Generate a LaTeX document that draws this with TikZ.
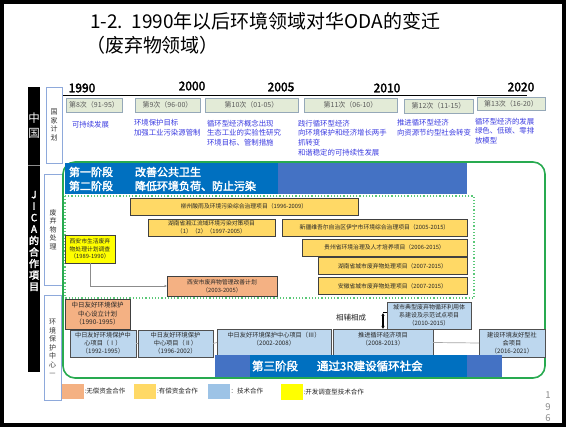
\documentclass[tikz,border=0pt]{standalone}
\usepackage{fontspec}
\setmainfont{Noto Sans CJK SC}[AutoFakeBold=2.5]
\usetikzlibrary{arrows.meta}
\definecolor{orangeF}{HTML}{F4B183}
\definecolor{yel}{HTML}{FFD966}
\definecolor{byel}{HTML}{FFFF00}
\definecolor{lblue}{HTML}{BDD7EE}
\definecolor{legblue}{HTML}{9DC3E6}
\definecolor{dblue}{HTML}{0070C0}
\definecolor{mblue}{HTML}{4472C4}
\definecolor{gline}{RGB}{40,170,80}
\definecolor{dotg}{RGB}{90,200,120}
\definecolor{planfill}{HTML}{E3EBD7}
\definecolor{planborder}{HTML}{95A8B8}
\definecolor{plantxt}{RGB}{60,60,225}
\definecolor{projborder}{HTML}{404040}
\definecolor{bborder}{HTML}{505050}
\definecolor{sideborder}{HTML}{8EA9DB}
\newcommand\fsz[2]{\fontsize{#1}{#2}\selectfont}
\begin{document}
\begin{tikzpicture}[x=1pt,y=-1pt,
  every node/.style={inner sep=0pt, outer sep=0pt},
  planbox/.style={draw=planborder, fill=planfill, line width=0.8pt, font=\fsz{7}{8}, text=black!65},
  plantext/.style={anchor=west, align=left, text=plantxt, font=\fsz{7.4}{9.8}},
  yproj/.style={draw=projborder, fill=yel, line width=0.9pt, font=\fsz{5.8}{8}, align=center, text=black!85},
  oproj/.style={yproj, fill=orangeF},
  bproj/.style={draw=bborder, fill=lblue, line width=0.9pt, font=\fsz{6.2}{8}, align=center, text=black!85},
  side/.style={draw=sideborder, line width=0.8pt, fill=white, align=center, font=\fsz{7}{8.5}, text=black!80},
  year/.style={font=\bfseries\fsz{12}{12}},
  bantext/.style={anchor=west, text=white, font=\bfseries\fsz{11}{14}},
  legsq/.style={draw=none, minimum width=22pt, minimum height=15.5pt},
  legtext/.style={anchor=west, font=\fsz{6.5}{7}, text=black!85}
]
\useasboundingbox (0,0) rectangle (566,427);
\fill[white] (0,0) rectangle (566,427);

% title
\node[anchor=west, font=\fsz{19}{22}] (title1) at (90,21) {1-2.\ \ 1990年以后环境领域对华ODA的变迁};
\node[anchor=west, font=\fsz{19}{22}] (title2) at (86,45) {（废弃物领域）};

% timeline
\node[year] (y1990) at (82,88) {1990};
\node[year] (y2000) at (192,86) {2000};
\node[year] (y2005) at (281,87) {2005};
\node[year] (y2010) at (387,88) {2010};
\node[year] (y2020) at (521,87) {2020};
\draw[line width=1.5pt] (63,95.5) -- (527,95.5);

% plan boxes
\node[planbox, minimum width=56pt, minimum height=14pt] (p8) at (94,105) {第8次（91-95）};
\node[planbox, minimum width=65pt, minimum height=14pt] (p9) at (167.5,105) {第9次（96-00）};
\node[planbox, minimum width=93pt, minimum height=14pt] (p10) at (251.5,105) {第10次（01-05）};
\node[planbox, minimum width=93pt, minimum height=14pt] (p11) at (350.5,105) {第11次（06-10）};
\node[planbox, minimum width=69pt, minimum height=14pt] (p12) at (438.5,106) {第12次（11-15）};
\node[planbox, minimum width=68pt, minimum height=13pt] (p13) at (511,103.5) {第13次（16-20）};

% plan texts
\node[plantext] (t8) at (72,125) {可持续发展};
\node[plantext] (t9) at (134,128) {环境保护目标\\加强工业污染源管制};
\node[plantext] (t10) at (207,133) {循环型经济概念出现\\生态工业的实验性研究\\环境目标、管制措施};
\node[plantext] (t11) at (298,138) {践行循环型经济\\向环境保护和经济增长两手\\抓转变\\和谐稳定的可持续性发展};
\node[plantext] (t12) at (397,128) {推进循环型经济\\向资源节约型社会转变};
\node[plantext] (t13) at (475,131) {循环型经济的发展\\绿色、低碳、零排\\放模型};

% left black bar
\fill[black] (28,87) rectangle (40,372);
\draw[black!45, line width=0.6pt] (28,165) -- (40,165);
\node[text=white, align=center, font=\fsz{11.5}{15}] (china) at (34,126) {中\\国};
\node[text=white, align=center, font=\bfseries\fsz{10}{11.5}] (jica) at (34,241) {J\\I\\C\\A\\的\\合\\作\\項\\目};

% side labels
\node[side, minimum width=16pt, minimum height=76pt] (s1) at (54,125) {国\\家\\计\\划};
\node[side, minimum width=18pt, minimum height=111pt] (s2) at (53,229.5) {废\\弃\\物\\处\\理};
\node[side, minimum width=17pt, minimum height=105pt] (s3) at (52.5,347.5) {环\\境\\保\\护\\中\\心\\—};

% green frame
\draw[gline, line width=1.6pt, rounded corners=12pt] (63,162) rectangle (545,378);

% top banner
\fill[mblue] (65,163) rectangle (467,194);
\fill[dblue] (65,163) rectangle (278,194);
\node[bantext] (b1a) at (69,172) {第一阶段};
\node[bantext] (b1b) at (135,172) {改善公共卫生};
\node[bantext] (b2a) at (69,186) {第二阶段};
\node[bantext] (b2b) at (135,186) {降低环境负荷、防止污染};

% dotted region
\draw[dotg, dotted, line width=1.2pt] (65,196) rectangle (474,298);

% yellow projects
\node[yproj, minimum width=228pt, minimum height=17pt] (liuzhou) at (244,206.5) {柳州酸雨及环境污染综合治理项目（1996-2009）};
\node[yproj, minimum width=127pt, minimum height=17pt] (hunanx) at (211.5,227.5) {湖南省湘江流域环境污染对策项目\\（1）（2）（1997-2005）};
\node[yproj, minimum width=185pt, minimum height=17pt] (xinjiang) at (374.5,227.5) {新疆维吾尔自治区伊宁市环境综合治理项目（2005-2015）};
\node[yproj, minimum width=165pt, minimum height=17pt] (guizhou) at (384.5,247.5) {贵州省环境治理及人才培养项目（2006-2015）};
\node[yproj, minimum width=149pt, minimum height=17pt] (hunanc) at (392.5,266) {湖南省城市废弃物处理项目（2007-2015）};
\node[yproj, minimum width=149pt, minimum height=17pt] (anhui) at (392.5,286) {安徽省城市废弃物处理项目（2007-2015）};

% xian
\node[yproj, fill=byel, minimum width=50pt, minimum height=28pt, font=\fsz{5.8}{7.5}] (xian) at (90,249) {西安市生活废弃\\物处理计划调查\\（1989-1990）};
\node[oproj, minimum width=110pt, minimum height=20pt] (xianplan) at (222,286) {西安市废弃物管理改善计划\\（2003-2005）};
\draw[black!45, line width=0.8pt, -{Latex[length=2.5pt,width=2.5pt]}] (xian.south) |- (xianplan.west);

% environmental centre
\node[oproj, minimum width=65pt, minimum height=30pt, font=\fsz{6.5}{8.5}] (ccenter) at (97.5,314) {中日友好环境保护\\中心设立计划\\（1990-1995）};
\node[bproj, minimum width=66pt, minimum height=27pt] (c1) at (103,343.5) {中日友好环境保护中\\心项目（Ⅰ）\\（1992-1995）};
\node[bproj, minimum width=75pt, minimum height=27pt] (c2) at (175.5,343.5) {中日友好环境保护\\中心项目（Ⅱ）\\（1996-2002）};
\node[bproj, minimum width=114pt, minimum height=27pt, text depth=7pt] (c3) at (274,342.5) {中日友好环境保护中心项目（Ⅲ）\\（2002-2008）};
\node[bproj, minimum width=100pt, minimum height=27pt, text depth=7pt] (c4) at (383,342.5) {推进循环经济项目\\（2008-2013）};
\node[bproj, minimum width=84pt, minimum height=27pt, font=\fsz{6}{8}] (c5) at (429,315.5) {城市典型废弃物循环利用体\\系建设及示范试点项目\\（2010-2015）};
\node[bproj, minimum width=66pt, minimum height=28pt] (c6) at (512,343) {建设环境友好型社\\会项目\\（2016-2021）};
\draw[black!35, line width=0.7pt] (c1.east) -- (c2.west);
\draw[black!35, line width=0.7pt] (c2.east) -- (c3.west);
\draw[black!35, line width=0.7pt] (c4.east) -- (c6.west);

\node[font=\fsz{7.5}{8}, text=black!85] (fuzhu) at (351,318) {相辅相成};
\coordinate (arrtop) at (383,313);
\draw[line width=1.3pt, {Latex[length=3pt,width=3.5pt]}-{Latex[length=3pt,width=3.5pt]}] (arrtop) -- (c4.north);
\draw[line width=1pt] (arrtop) -- (arrtop -| c5.west);

% bottom banner
\fill[mblue] (215,355) rectangle (502,377);
\fill[dblue] (250,355) rectangle (467,377);
\node[bantext, font=\bfseries\fsz{11.5}{14}] (b3a) at (252,366) {第三阶段};
\node[bantext, font=\bfseries\fsz{11.5}{14}] (b3b) at (317,366) {通过3R建设循环社会};

% legend
\node[legsq, fill=orangeF] (l1) at (72.5,391.5) {};
\node[legtext] (l1t) at (l1.east) {\,:无偿资金合作};
\node[legsq, fill=yel] (l2) at (145,391.5) {};
\node[legtext] (l2t) at (l2.east) {\,:有偿资金合作};
\node[legsq, fill=legblue] (l3) at (218.5,391.5) {};
\node[legtext] (l3t) at (l3.east) {\,：技术合作};
\node[legsq, fill=byel] (l4) at (291.5,392) {};
\node[legtext] (l4t) at (l4.east) {\,:开发调查型技术合作};

% page number
\node[text=black!45, align=center, font=\fsz{9.5}{11.5}] (pnum) at (548,407) {1\\9\\6};

% outer frame
\draw[line width=4pt] (2,2) rectangle (564,425);
\end{tikzpicture}
\end{document}
